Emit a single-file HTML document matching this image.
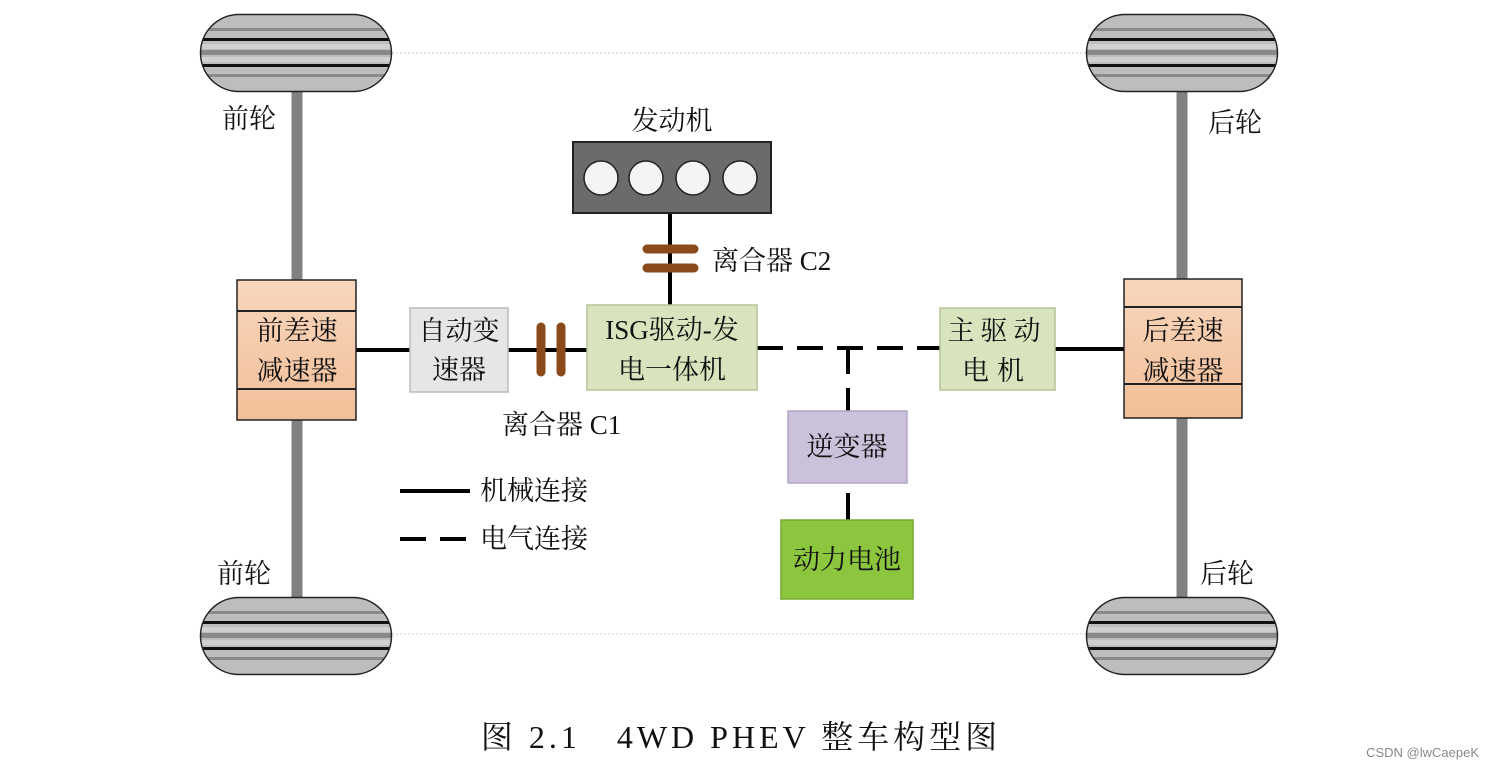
<!DOCTYPE html>
<html><head><meta charset="utf-8"><style>
html,body{margin:0;padding:0;background:#fff;}
svg{display:block;}
text{font-family:"Liberation Serif","Noto Serif CJK SC","Noto Sans CJK SC",serif;fill:#111;}
</style></head><body>
<svg width="1486" height="771" viewBox="0 0 1486 771" xmlns="http://www.w3.org/2000/svg">
<defs>
<clipPath id="wc"><rect x="0" y="0" width="192" height="78" rx="39" ry="39"/></clipPath>
<g id="wheel">
 <g clip-path="url(#wc)">
  <rect x="0" y="0" width="192" height="78" fill="#bdbdbd"/>
  <rect x="0" y="14" width="192" height="3" fill="#8a8a8a"/>
  <rect x="0" y="30" width="192" height="5" fill="#d0d0d0"/>
  <rect x="0" y="36" width="192" height="5" fill="#888"/>
  <rect x="0" y="43" width="192" height="5" fill="#d0d0d0"/>
  <rect x="0" y="60" width="192" height="3" fill="#8a8a8a"/>
  <rect x="0" y="24" width="192" height="3" fill="#111"/>
  <rect x="0" y="50" width="192" height="3" fill="#111"/>
 </g>
 <rect x="0.5" y="0.5" width="191" height="77" rx="38.5" ry="38.5" fill="none" stroke="#222" stroke-width="1.5"/>
</g>
<linearGradient id="dg" x1="0" y1="0" x2="0" y2="1"><stop offset="0" stop-color="#f8d6bd"/><stop offset="1" stop-color="#f2bf98"/></linearGradient>
</defs>

<line x1="392" y1="53" x2="1086" y2="53" stroke="#ccc" stroke-width="1" stroke-dasharray="2,2"/>
<line x1="392" y1="634" x2="1086" y2="634" stroke="#ccc" stroke-width="1" stroke-dasharray="2,2"/>

<g stroke="#808080" stroke-width="11" stroke-linecap="round">
<line x1="297" y1="92" x2="297" y2="278"/>
<line x1="297" y1="422" x2="297" y2="597"/>
<line x1="1182" y1="92" x2="1182" y2="278"/>
<line x1="1182" y1="418" x2="1182" y2="597"/>
</g>

<use href="#wheel" x="200" y="14"/>
<use href="#wheel" x="1086" y="14"/>
<use href="#wheel" x="200" y="597"/>
<use href="#wheel" x="1086" y="597"/>

<g stroke="#000" stroke-width="4">
<line x1="356" y1="350" x2="410" y2="350"/>
<line x1="508" y1="350" x2="587" y2="350"/>
<line x1="670" y1="213" x2="670" y2="305"/>
<line x1="1055" y1="349" x2="1124" y2="349"/>
<line x1="400" y1="491" x2="470" y2="491"/>
</g>
<g stroke="#000" stroke-width="4" stroke-dasharray="26,14">
<line x1="757" y1="348" x2="940" y2="348"/>
<line x1="848" y1="348" x2="848" y2="411"/>
<line x1="400" y1="539" x2="470" y2="539"/>
</g>
<line x1="848" y1="493" x2="848" y2="520" stroke="#000" stroke-width="4"/>

<g stroke="#8b4a1a" stroke-width="9" stroke-linecap="round">
<line x1="541" y1="327" x2="541" y2="372"/>
<line x1="561" y1="327" x2="561" y2="372"/>
<line x1="647" y1="249" x2="694" y2="249"/>
<line x1="647" y1="268" x2="694" y2="268"/>
</g>

<rect x="237" y="280" width="119" height="140" fill="url(#dg)" stroke="#222" stroke-width="1.5"/>
<line x1="237" y1="311" x2="356" y2="311" stroke="#222" stroke-width="2"/>
<line x1="237" y1="389" x2="356" y2="389" stroke="#222" stroke-width="2"/>
<text x="297" y="340" font-size="27" text-anchor="middle">前差速</text>
<text x="297" y="380" font-size="27" text-anchor="middle">减速器</text>

<rect x="1124" y="279" width="118" height="139" fill="url(#dg)" stroke="#222" stroke-width="1.5"/>
<line x1="1124" y1="307" x2="1242" y2="307" stroke="#222" stroke-width="2"/>
<line x1="1124" y1="384" x2="1242" y2="384" stroke="#222" stroke-width="2"/>
<text x="1183" y="340" font-size="27" text-anchor="middle">后差速</text>
<text x="1183" y="380" font-size="27" text-anchor="middle">减速器</text>

<rect x="410" y="308" width="98" height="84" fill="#e6e6e6" stroke="#bbb" stroke-width="1.5"/>
<text x="459" y="340" font-size="27" text-anchor="middle">自动变</text>
<text x="459" y="379" font-size="27" text-anchor="middle">速器</text>

<rect x="587" y="305" width="170" height="85" fill="#d8e4bd" stroke="#b5c496" stroke-width="1.5"/>
<text x="672" y="339" font-size="27" text-anchor="middle">ISG驱动-发</text>
<text x="672" y="379" font-size="27" text-anchor="middle">电一体机</text>

<rect x="573" y="142" width="198" height="71" fill="#6b6b6b" stroke="#222" stroke-width="2"/>
<g fill="#f4f4f4" stroke="#222" stroke-width="1.5">
<circle cx="601" cy="178" r="17"/><circle cx="646" cy="178" r="17"/>
<circle cx="693" cy="178" r="17"/><circle cx="740" cy="178" r="17"/>
</g>
<text x="672" y="130" font-size="27" text-anchor="middle">发动机</text>

<rect x="940" y="308" width="115" height="82" fill="#d8e4bd" stroke="#b5c496" stroke-width="1.5"/>
<text x="997" y="340" font-size="27" text-anchor="middle" letter-spacing="6">主驱动</text>
<text x="997" y="380" font-size="27" text-anchor="middle" letter-spacing="8">电机</text>

<rect x="788" y="411" width="119" height="72" fill="#ccc1da" stroke="#b0a6c2" stroke-width="1.5"/>
<text x="847" y="456" font-size="27" text-anchor="middle">逆变器</text>

<rect x="781" y="520" width="132" height="79" fill="#8cc63f" stroke="#77aa33" stroke-width="1.5"/>
<text x="847" y="569" font-size="27" text-anchor="middle">动力电池</text>

<text x="222" y="128" font-size="27">前轮</text>
<text x="1208" y="132" font-size="27">后轮</text>
<text x="217" y="583" font-size="27">前轮</text>
<text x="1200" y="583" font-size="27">后轮</text>
<text x="712" y="270" font-size="27">离合器 C2</text>
<text x="502" y="434" font-size="27">离合器 C1</text>
<text x="480" y="500" font-size="27">机械连接</text>
<text x="480" y="548" font-size="27">电气连接</text>

<text x="741" y="748" font-size="32" text-anchor="middle" letter-spacing="4">图 2.1　4WD PHEV 整车构型图</text>
<text x="1479" y="757" font-size="13" text-anchor="end" style="font-family:'Liberation Sans',sans-serif;fill:#888">CSDN @lwCaepeK</text>
</svg>
</body></html>
